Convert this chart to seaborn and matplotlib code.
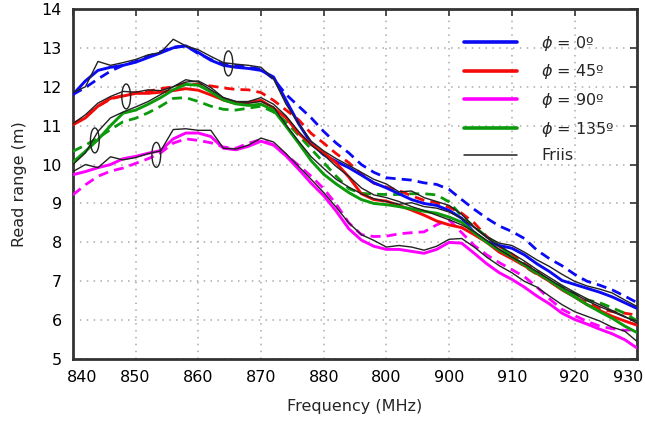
import numpy as np
import pandas as pd
import seaborn as sns
import matplotlib
matplotlib.use("Agg")
import matplotlib.pyplot as plt
import matplotlib.transforms as mtransforms
from matplotlib.lines import Line2D
from matplotlib.patches import Ellipse

# ---------------- data ----------------
freq = [840, 842, 844, 846, 848, 850, 852, 854, 856, 858, 860, 862, 864, 866, 868,
        870, 872, 874, 876, 878, 880, 882, 884, 886, 888, 890, 892, 894, 896, 898,
        900, 902, 904, 906, 908, 910, 912, 914, 916, 918, 920, 922, 924, 926, 928, 930]

blue_meas = [11.80, 12.15, 12.42, 12.50, 12.55, 12.63, 12.75, 12.87, 13.00, 13.05, 12.88, 12.68, 12.55, 12.50, 12.47,
             12.42, 12.25, 11.65, 11.05, 10.55, 10.25, 10.08, 9.92, 9.73, 9.53, 9.40, 9.25, 9.10, 9.00, 8.95,
             8.82, 8.62, 8.25, 8.02, 7.92, 7.85, 7.68, 7.45, 7.25, 7.02, 6.92, 6.82, 6.72, 6.60, 6.45, 6.30]
blue_sim = [11.80, 11.98, 12.20, 12.40, 12.55, 12.65, 12.78, 12.90, 13.02, 13.05, 12.85, 12.70, 12.58, 12.55, 12.50,
            12.45, 12.20, 11.80, 11.50, 11.20, 10.85, 10.55, 10.30, 10.00, 9.80, 9.66, 9.63, 9.60, 9.53, 9.49,
            9.36, 9.10, 8.85, 8.62, 8.42, 8.28, 8.10, 7.80, 7.58, 7.40, 7.18, 7.00, 6.90, 6.78, 6.62, 6.45]
red_meas = [11.02, 11.20, 11.50, 11.70, 11.76, 11.83, 11.83, 11.86, 11.90, 11.95, 11.91, 11.79, 11.66, 11.57, 11.60,
            11.65, 11.45, 11.20, 10.80, 10.52, 10.30, 10.04, 9.68, 9.25, 9.10, 9.06, 8.95, 8.83, 8.70, 8.55,
            8.45, 8.38, 8.20, 8.00, 7.75, 7.58, 7.40, 7.20, 7.00, 6.78, 6.60, 6.40, 6.25, 6.10, 5.98, 5.87]
red_sim = [11.05, 11.22, 11.50, 11.68, 11.78, 11.85, 11.88, 11.95, 12.00, 12.08, 12.06, 12.02, 11.97, 11.93, 11.92,
           11.85, 11.65, 11.40, 11.15, 10.80, 10.55, 10.28, 10.05, 9.75, 9.52, 9.42, 9.33, 9.20, 9.08, 9.02,
           8.90, 8.75, 8.50, 8.15, 7.90, 7.70, 7.45, 7.25, 7.00, 6.80, 6.60, 6.45, 6.30, 6.22, 6.18, 6.13]
mag_meas = [9.74, 9.82, 9.92, 10.00, 10.15, 10.21, 10.29, 10.36, 10.66, 10.81, 10.81, 10.72, 10.42, 10.38, 10.47,
            10.60, 10.50, 10.22, 9.88, 9.52, 9.20, 8.80, 8.35, 8.06, 7.90, 7.82, 7.82, 7.77, 7.72, 7.82,
            8.00, 7.98, 7.72, 7.45, 7.22, 7.05, 6.85, 6.62, 6.42, 6.18, 6.02, 5.90, 5.77, 5.65, 5.50, 5.28]
mag_sim = [9.22, 9.48, 9.70, 9.83, 9.91, 10.03, 10.15, 10.30, 10.55, 10.66, 10.62, 10.56, 10.45, 10.42, 10.55,
           10.64, 10.50, 10.25, 9.98, 9.70, 9.38, 8.98, 8.50, 8.20, 8.15, 8.16, 8.22, 8.25, 8.27, 8.45,
           8.58, 8.25, 7.92, 7.68, 7.48, 7.30, 7.12, 6.85, 6.55, 6.28, 6.12, 5.97, 5.85, 5.78, 5.74, 5.76]
green_meas = [10.06, 10.34, 10.64, 11.00, 11.32, 11.40, 11.55, 11.72, 11.92, 12.06, 12.04, 11.87, 11.66, 11.56, 11.52,
              11.55, 11.40, 10.98, 10.55, 10.10, 9.75, 9.50, 9.28, 9.10, 9.00, 8.97, 8.92, 8.86, 8.80, 8.75,
              8.65, 8.52, 8.25, 8.00, 7.80, 7.62, 7.42, 7.22, 7.02, 6.80, 6.60, 6.40, 6.22, 6.05, 5.85, 5.68]
green_sim = [10.34, 10.50, 10.68, 10.90, 11.10, 11.19, 11.33, 11.50, 11.70, 11.72, 11.62, 11.50, 11.42, 11.40, 11.45,
             11.50, 11.35, 11.10, 10.75, 10.40, 10.05, 9.70, 9.38, 9.26, 9.24, 9.23, 9.23, 9.25, 9.25, 9.22,
             9.04, 8.68, 8.40, 8.15, 7.92, 7.65, 7.38, 7.18, 7.02, 6.85, 6.68, 6.52, 6.45, 6.32, 6.18, 5.98]

friis_blue = [11.85, 12.00, 12.65, 12.55, 12.62, 12.70, 12.82, 12.88, 13.22, 13.05, 12.95, 12.78, 12.62, 12.58, 12.55,
              12.50, 12.20, 11.55, 11.05, 10.60, 10.35, 10.15, 9.98, 9.80, 9.62, 9.50, 9.30, 9.32, 9.15, 9.05,
              8.95, 8.72, 8.40, 8.15, 7.98, 7.92, 7.75, 7.55, 7.38, 7.18, 7.00, 6.88, 6.80, 6.70, 6.52, 6.35]
friis_red = [11.05, 11.28, 11.58, 11.75, 11.88, 11.86, 11.92, 11.90, 12.00, 12.12, 12.15, 11.98, 11.72, 11.62, 11.62,
             11.72, 11.55, 11.25, 10.85, 10.50, 10.25, 9.95, 9.70, 9.40, 9.22, 9.15, 9.05, 8.92, 8.82, 8.70,
             8.58, 8.45, 8.28, 8.05, 7.82, 7.62, 7.45, 7.25, 7.05, 6.85, 6.68, 6.50, 6.35, 6.22, 6.08, 5.98]
friis_green = [10.00, 10.30, 10.85, 11.20, 11.35, 11.48, 11.62, 11.80, 12.00, 12.18, 12.12, 11.92, 11.72, 11.62, 11.58,
               11.62, 11.48, 11.02, 10.60, 10.20, 9.90, 9.62, 9.42, 9.25, 9.12, 9.05, 8.98, 9.02, 8.92, 8.88,
               8.78, 8.62, 8.38, 8.12, 7.90, 7.72, 7.52, 7.30, 7.10, 6.90, 6.72, 6.55, 6.40, 6.25, 6.10, 5.92]
friis_mag = [9.82, 10.00, 9.92, 10.20, 10.12, 10.18, 10.28, 10.35, 10.90, 10.92, 10.88, 10.88, 10.42, 10.40, 10.50,
             10.68, 10.58, 10.28, 9.95, 9.62, 9.28, 8.90, 8.50, 8.20, 8.05, 7.88, 7.92, 7.88, 7.80, 7.90,
             8.08, 8.10, 7.88, 7.62, 7.40, 7.22, 7.00, 6.85, 6.62, 6.40, 6.22, 6.10, 5.98, 5.82, 5.72, 5.45]

x_ticks = [840, 850, 860, 870, 880, 890, 900, 910, 920, 930]
x_tick_labels = ["840", "850", "860", "870", "880", "800", "900", "910", "920", "930"]
y_ticks = [5, 6, 7, 8, 9, 10, 11, 12, 13, 14]

legend_labels = [r"$\phi$ = 0º", r"$\phi$ = 45º", r"$\phi$ = 90º", r"$\phi$ = 135º", "Friis"]

# ellipse annotation centers (freq, range)
ell_f = [864.8, 848.5, 843.5, 853.3]
ell_r = [12.60, 11.75, 10.62, 10.25]

# ---------------- plotting ----------------
sns.set_style("white")
plt.rcParams["font.family"] = ["DejaVu Sans"]
plt.rcParams["mathtext.fontset"] = "dejavusans"

C_BLUE = "#0a0af5"
C_RED = "#f50a0a"
C_MAG = "#ff00ff"
C_GREEN = "#0a9a0a"

fig = plt.figure(figsize=(6.45, 4.24), dpi=100)
ax = fig.add_axes([0.113, 0.153, 0.875, 0.826])

meas = [(blue_meas, C_BLUE), (red_meas, C_RED), (mag_meas, C_MAG), (green_meas, C_GREEN)]
sims = [(blue_sim, C_BLUE), (red_sim, C_RED), (mag_sim, C_MAG), (green_sim, C_GREEN)]
friis = [friis_blue, friis_red, friis_green, friis_mag]

for vals, col in sims:
    sns.lineplot(x=freq, y=vals, ax=ax, color=col, lw=2.0, zorder=3)
    ax.lines[-1].set_dashes((3.6, 2.2))
for vals, col in meas:
    sns.lineplot(x=freq, y=vals, ax=ax, color=col, lw=2.1, zorder=4)
for vals in friis:
    sns.lineplot(x=freq, y=vals, ax=ax, color="#222222", lw=1.0, zorder=5)

for f, r in zip(ell_f, ell_r):
    ax.add_patch(Ellipse((f, r), width=1.4, height=0.64, fill=False,
                         edgecolor="#222222", lw=1.0, zorder=6))

ax.set_xlim(840, 930)
ax.set_ylim(5, 14)
ax.set_xticks(x_ticks)
ax.set_xticklabels(x_tick_labels)
ax.set_yticks(y_ticks)
ax.tick_params(axis="both", which="both", direction="in", length=5, width=1.2,
               top=True, right=True, labelsize=11.5, colors="#333333", labelcolor="black",
               pad=8)
ax.grid(True, linestyle=(0, (1, 3.5)), color="#aaaaaa", lw=1.1)
for s in ax.spines.values():
    s.set_color("#333333")
    s.set_linewidth(2.0)

# nudge the end labels as in the reference
xl = ax.get_xticklabels()
xl[0].set_transform(xl[0].get_transform() + mtransforms.ScaledTranslation(9 / 100, 0, fig.dpi_scale_trans))
xl[-1].set_transform(xl[-1].get_transform() + mtransforms.ScaledTranslation(-9 / 100, 0, fig.dpi_scale_trans))

ax.set_xlabel("Frequency (MHz)", fontsize=11.5, labelpad=10)
ax.set_ylabel("Read range (m)", fontsize=11.5, labelpad=10)

handles = [Line2D([], [], color=C_BLUE, lw=2.6),
           Line2D([], [], color=C_RED, lw=2.6),
           Line2D([], [], color=C_MAG, lw=2.6),
           Line2D([], [], color=C_GREEN, lw=2.6),
           Line2D([], [], color="#222222", lw=1.1)]
leg = ax.legend(handles, legend_labels, loc="upper right", bbox_to_anchor=(0.985, 0.97),
                frameon=False, fontsize=11.5, handlelength=3.3, handletextpad=1.5,
                labelspacing=0.6)
leg.set_zorder(10)

fig.savefig("out.png", dpi=100)
